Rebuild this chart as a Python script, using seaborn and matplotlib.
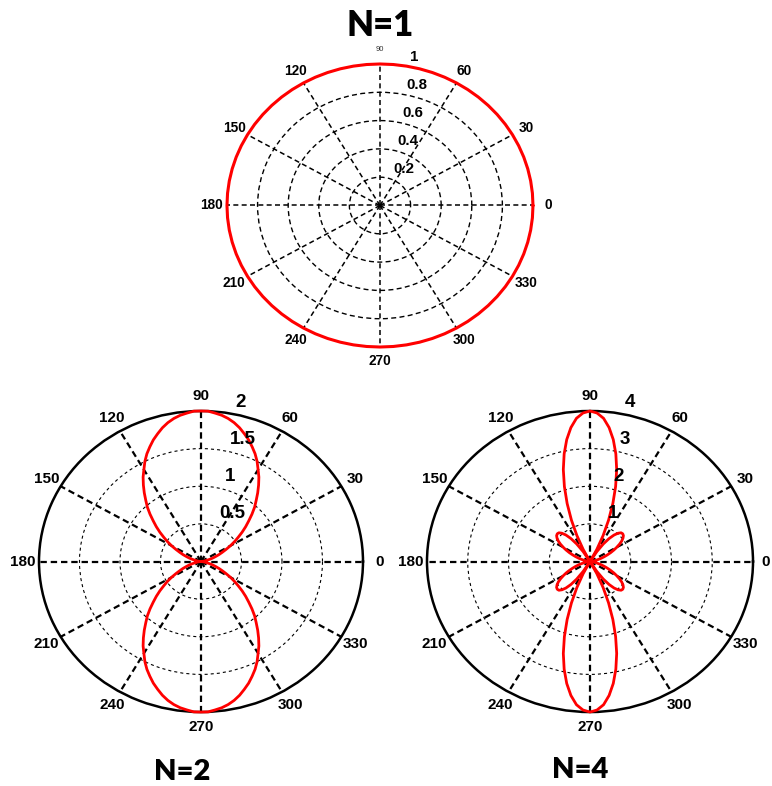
import numpy as np
import matplotlib.pyplot as plt
import matplotlib.transforms as mtransforms
import seaborn as sns

angles_n1 = np.arange(0, 361, 5)
angles_n24 = np.arange(0, 360.1, 2.5)

# N=1: isotropic element, radius 1 everywhere
r_n1 = [1.0, 1.0, 1.0, 1.0, 1.0, 1.0, 1.0, 1.0, 1.0, 1.0,
        1.0, 1.0, 1.0, 1.0, 1.0, 1.0, 1.0, 1.0, 1.0, 1.0,
        1.0, 1.0, 1.0, 1.0, 1.0, 1.0, 1.0, 1.0, 1.0, 1.0,
        1.0, 1.0, 1.0, 1.0, 1.0, 1.0, 1.0, 1.0, 1.0, 1.0,
        1.0, 1.0, 1.0, 1.0, 1.0, 1.0, 1.0, 1.0, 1.0, 1.0,
        1.0, 1.0, 1.0, 1.0, 1.0, 1.0, 1.0, 1.0, 1.0, 1.0,
        1.0, 1.0, 1.0, 1.0, 1.0, 1.0, 1.0, 1.0, 1.0, 1.0,
        1.0, 1.0, 1.0]

# N=2 pattern, 0..360 every 2.5 deg
r_n2 = [0.00, 0.00, 0.01, 0.03, 0.05, 0.07, 0.11, 0.15, 0.19, 0.24,
        0.29, 0.35, 0.42, 0.49, 0.56, 0.64, 0.72, 0.80, 0.89, 0.98,
        1.06, 1.15, 1.24, 1.33, 1.41, 1.50, 1.58, 1.65, 1.72, 1.78,
        1.84, 1.89, 1.93, 1.96, 1.98, 2.00, 2.00,
        2.00, 1.98, 1.96, 1.93, 1.89, 1.84, 1.78, 1.72, 1.65, 1.58,
        1.50, 1.41, 1.33, 1.24, 1.15, 1.06, 0.98, 0.89, 0.80, 0.72,
        0.64, 0.56, 0.49, 0.42, 0.35, 0.29, 0.24, 0.19, 0.15, 0.11,
        0.07, 0.05, 0.03, 0.01, 0.00, 0.00,
        0.00, 0.01, 0.03, 0.05, 0.07, 0.11, 0.15, 0.19, 0.24, 0.29,
        0.35, 0.42, 0.49, 0.56, 0.64, 0.72, 0.80, 0.89, 0.98, 1.06,
        1.15, 1.24, 1.33, 1.41, 1.50, 1.58, 1.65, 1.72, 1.78, 1.84,
        1.89, 1.93, 1.96, 1.98, 2.00, 2.00,
        2.00, 1.98, 1.96, 1.93, 1.89, 1.84, 1.78, 1.72, 1.65, 1.58,
        1.50, 1.41, 1.33, 1.24, 1.15, 1.06, 0.98, 0.89, 0.80, 0.72,
        0.64, 0.56, 0.49, 0.42, 0.35, 0.29, 0.24, 0.19, 0.15, 0.11,
        0.07, 0.05, 0.03, 0.01, 0.00, 0.00]

# N=4 pattern, 0..360 every 2.5 deg
r_n4 = [0.00, 0.01, 0.02, 0.05, 0.10, 0.15, 0.21, 0.29, 0.37, 0.46,
        0.56, 0.66, 0.76, 0.86, 0.95, 1.02, 1.07, 1.09, 1.08, 1.02,
        0.92, 0.77, 0.57, 0.31, 0.00, 0.36, 0.76, 1.19, 1.64, 2.09,
        2.53, 2.93, 3.29, 3.59, 3.82, 3.95, 4.00,
        3.95, 3.82, 3.59, 3.29, 2.93, 2.53, 2.09, 1.64, 1.19, 0.76,
        0.36, 0.00, 0.31, 0.57, 0.77, 0.92, 1.02, 1.08, 1.09, 1.07,
        1.02, 0.95, 0.86, 0.76, 0.66, 0.56, 0.46, 0.37, 0.29, 0.21,
        0.15, 0.10, 0.05, 0.02, 0.01, 0.00,
        0.01, 0.02, 0.05, 0.10, 0.15, 0.21, 0.29, 0.37, 0.46, 0.56,
        0.66, 0.76, 0.86, 0.95, 1.02, 1.07, 1.09, 1.08, 1.02, 0.92,
        0.77, 0.57, 0.31, 0.00, 0.36, 0.76, 1.19, 1.64, 2.09, 2.53,
        2.93, 3.29, 3.59, 3.82, 3.95, 4.00,
        3.95, 3.82, 3.59, 3.29, 2.93, 2.53, 2.09, 1.64, 1.19, 0.76,
        0.36, 0.00, 0.31, 0.57, 0.77, 0.92, 1.02, 1.08, 1.09, 1.07,
        1.02, 0.95, 0.86, 0.76, 0.66, 0.56, 0.46, 0.37, 0.29, 0.21,
        0.15, 0.10, 0.05, 0.02, 0.01, 0.00]

theta_ticks = [0, 30, 60, 90, 120, 150, 180, 210, 240, 270, 300, 330]

rticks_n1 = [0.2, 0.4, 0.6, 0.8, 1.0]
rlabels_n1 = ["0.2", "0.4", "0.6", "0.8", "1"]
rticks_n2 = [0.5, 1.0, 1.5, 2.0]
rlabels_n2 = ["0.5", "1", "1.5", "2"]
rticks_n4 = [1, 2, 3, 4]
rlabels_n4 = ["1", "2", "3", "4"]

titles = ["N=1", "N=2", "N=4"]

sns.set_style("white")
plt.rcParams["font.family"] = ["Liberation Sans", "DejaVu Sans"]
plt.rcParams["text.color"] = "black"
plt.rcParams["lines.scale_dashes"] = False

fig = plt.figure(figsize=(7.72, 7.86), dpi=100)


def polar_panel(rect, angles, radii, rticks, rlabels, spoke_lw, spoke_dash,
                ring_lw, ring_dash, spine_lw, curve_lw, tick_fs, rlab_fs,
                rlab_off, small90=False, zero_r=1.1):
    ax = fig.add_axes(rect, projection="polar")
    ax.set_aspect("auto")
    ax.set_position(rect)
    rmax = rticks[-1]
    sns.lineplot(x=np.deg2rad(angles), y=radii, ax=ax, color="red",
                 lw=curve_lw, sort=False, estimator=None, zorder=4,
                 clip_on=False)
    ax.set_ylim(0, rmax)
    ax.set_xticks(np.deg2rad(theta_ticks))
    ax.set_yticks(rticks[:-1])
    ax.set_xticklabels([])
    ax.set_yticklabels([])
    ax.tick_params(length=0)
    ax.xaxis.grid(True, color="black", lw=spoke_lw, linestyle=(0, spoke_dash))
    ax.yaxis.grid(True, color="black", lw=ring_lw, linestyle=(0, ring_dash))
    if spine_lw > 0:
        ax.spines["polar"].set_linewidth(spine_lw)
        ax.spines["polar"].set_color("black")
    else:
        ax.spines["polar"].set_visible(False)
    ax.set_xlabel("")
    ax.set_ylabel("")

    # angle labels at 1.1 * rmax
    for t in theta_ticks:
        rr = zero_r * rmax if t == 0 else 1.1 * rmax
        if small90 and t == 90:
            ax.text(np.deg2rad(t), rr, str(t), ha="center",
                    va="center", fontsize=5.5, color="#333333", clip_on=False)
        else:
            ax.text(np.deg2rad(t), rr, str(t), ha="center",
                    va="center", fontsize=tick_fs, fontweight="bold",
                    color="black", clip_on=False)

    # radial labels along the 82 deg direction
    shift = mtransforms.ScaledTranslation(rlab_off / 100, 0,
                                          fig.dpi_scale_trans)
    rinc = rticks[1] - rticks[0]
    for rv, lab in zip(rticks, rlabels):
        ax.text(np.deg2rad(82), rv + rinc / 20, lab, ha="left", va="bottom",
                fontsize=rlab_fs, fontweight="bold", color="black",
                clip_on=False, transform=ax.transData + shift, zorder=6)
    return ax


polar_panel([0.2940, 0.5585, 0.3964, 0.3601], angles_n1, r_n1, rticks_n1,
            rlabels_n1, 1.1, (3.6, 2.4), 1.0, (3.6, 2.4), 0, 2.2,
            9.8, 10.8, 9, small90=True)
polar_panel([0.0505, 0.0941, 0.4197, 0.3830], angles_n24, r_n2, rticks_n2,
            rlabels_n2, 1.6, (4.6, 2.8), 0.8, (2.2, 2.2), 1.8, 2.0,
            11, 13.5, 12)
polar_panel([0.5531, 0.0941, 0.4223, 0.3830], angles_n24, r_n4, rticks_n4,
            rlabels_n4, 1.6, (4.6, 2.8), 0.8, (2.2, 2.2), 1.8, 2.0,
            11, 13.5, 12, zero_r=1.075)

title_font = ["Lato", "DejaVu Sans"]
fig.text(380 / 772, 1 - 25 / 786, titles[0], ha="center", va="center",
         fontsize=25, fontweight="heavy", family=title_font, color="black")
fig.text(182 / 772, 1 - 772 / 786, titles[1], ha="center", va="center",
         fontsize=21, fontweight="heavy", family=title_font, color="black")
fig.text(580 / 772, 1 - 770 / 786, titles[2], ha="center", va="center",
         fontsize=21, fontweight="heavy", family=title_font, color="black")

fig.savefig("out.png", dpi=100, facecolor="white")
